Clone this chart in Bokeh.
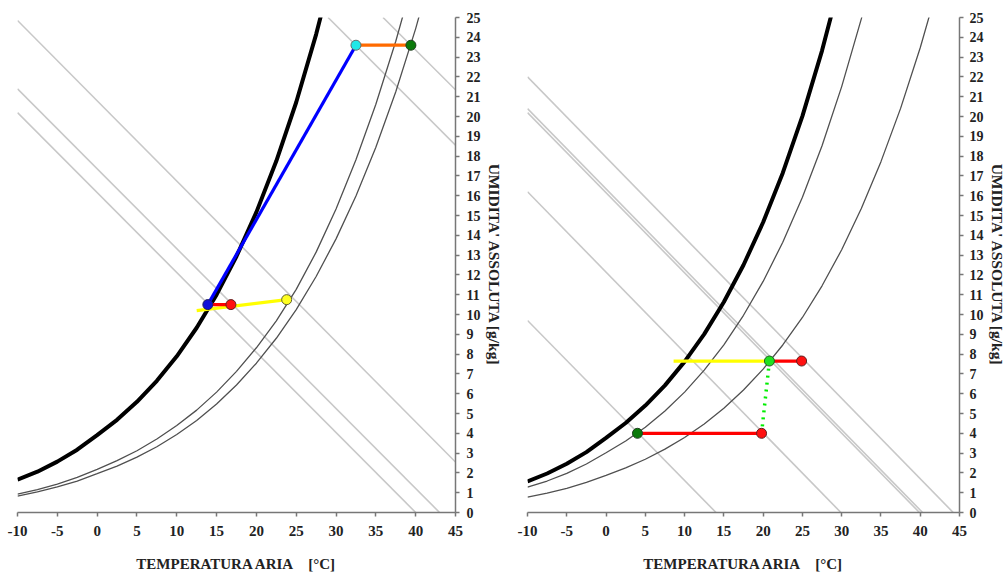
from bokeh.plotting import figure
from bokeh.layouts import row
from bokeh.models import Range1d, FixedTicker
from bokeh.embed import file_html
from bokeh.resources import INLINE

# ---------------- data ----------------
temps = [-10, -7.5, -5, -2.5, 0, 2.5, 5, 7.5, 10, 12.5, 15, 17.5, 20, 22.5,
         25, 27.5, 30, 32.5, 35, 37.5, 40, 42.5]

# saturation curves (thick black), g/kg
left_sat = [1.66, 2.06, 2.57, 3.17, 3.91, 4.68, 5.59, 6.65, 7.89, 9.33, 11.00,
            12.94, 15.17, 17.75, 20.72, 24.15, 28.07]
right_sat = [1.57, 1.97, 2.46, 3.05, 3.77, 4.52, 5.40, 6.42, 7.62, 9.01, 10.63,
             12.50, 14.66, 17.15, 20.02, 23.33, 27.12]
# left chart thin curves
left_curve_a = [0.93, 1.16, 1.43, 1.77, 2.18, 2.62, 3.12, 3.71, 4.39, 5.17, 6.08,
                7.13, 8.32, 9.68, 11.27, 13.15, 15.33, 17.82, 20.62, 23.80, 27.39]
left_curve_b = [0.83, 1.04, 1.29, 1.59, 1.96, 2.34, 2.80, 3.32, 3.94, 4.65, 5.48,
                6.44, 7.54, 8.80, 10.25, 11.92, 13.82, 15.98, 18.45, 21.25, 24.44, 28.06]
# right chart thin curves
right_curve_a = [1.28, 1.59, 1.98, 2.45, 3.02, 3.61, 4.31, 5.13, 6.08, 7.19, 8.47,
                 9.96, 11.67, 13.65, 15.92, 18.52, 21.51, 24.93, 28.84]
right_curve_b = [0.78, 0.98, 1.22, 1.52, 1.87, 2.25, 2.69, 3.20, 3.79, 4.47, 5.27,
                 6.19, 7.24, 8.46, 9.85, 11.45, 13.27, 15.35, 17.72, 20.41, 23.47, 26.93]

# gray diagonal lines: start temp, start humidity, end temp, end humidity
left_diag_x0 = [-10, -10, -10, 29.0, 35.9]
left_diag_y0 = [24.85, 21.4, 20.2, 25.0, 25.0]
left_diag_x1 = [45, 43.0, 40.0, 45, 45]
left_diag_y1 = [2.55, 0.0, 0.0, 18.55, 21.35]

right_diag_x0 = [-10, -10, -10, -10, -10]
right_diag_y0 = [9.7, 16.2, 20.2, 20.4, 22.0]
right_diag_x1 = [14.0, 29.9, 39.9, 40.3, 44.2]
right_diag_y1 = [0, 0, 0, 0, 0]

# process points, left chart
left_pt_names = ["blue", "red", "yellow", "cyan", "green"]
left_pt_t = [13.9, 16.8, 23.8, 32.5, 39.4]
left_pt_x = [10.5, 10.5, 10.75, 23.6, 23.6]
left_yellow_start = (12.5, 10.2)

# process points, right chart
right_pt_names = ["green_top", "red_top", "green_bottom", "red_bottom"]
right_pt_t = [20.8, 24.9, 4.0, 19.8]
right_pt_x = [7.65, 7.65, 4.0, 4.0]
right_yellow_start = (8.6, 7.65)

x_ticks = [-10, -5, 0, 5, 10, 15, 20, 25, 30, 35, 40, 45]
y_ticks = list(range(0, 26))

FONT = "Liberation Serif"
GRAY_LINE = "#c8c8c8"
THIN = "#505050"


def make_fig(width, b_left, b_right, lab_standoff, ax_lab_standoff):
    p = figure(width=width, height=574, x_range=Range1d(-10, 45), y_range=Range1d(0, 25),
               y_axis_location="right", output_backend="svg", toolbar_location=None,
               min_border_left=b_left, min_border_right=b_right,
               min_border_top=17, min_border_bottom=61)
    p.grid.visible = False
    p.outline_line_color = None
    p.background_fill_color = "white"
    p.border_fill_color = "white"
    p.xaxis.ticker = FixedTicker(ticks=x_ticks)
    p.yaxis.ticker = FixedTicker(ticks=y_ticks)
    p.xaxis.major_label_overrides = {-10: "-10", -5: "-5"}
    p.axis.major_tick_out = 4
    p.axis.major_tick_in = 0
    p.axis.minor_tick_out = 0
    p.axis.minor_tick_in = 0
    p.axis.axis_line_color = "#777777"
    p.axis.axis_line_width = 1.5
    p.axis.major_tick_line_color = "#777777"
    p.axis.major_tick_line_width = 1.5
    p.axis.major_label_text_font = FONT
    p.axis.major_label_text_font_style = "bold"
    p.axis.major_label_text_color = "#222222"
    p.xaxis.major_label_text_font_size = "15px"
    p.yaxis.major_label_text_font_size = "14px"
    p.xaxis.major_label_standoff = 9
    p.yaxis.major_label_standoff = lab_standoff
    p.axis.axis_label_text_font = FONT
    p.axis.axis_label_text_font_style = "bold"
    p.axis.axis_label_text_color = "#222222"
    p.xaxis.axis_label_text_font_size = "15px"
    p.yaxis.axis_label_text_font_size = "15.5px"
    p.xaxis.axis_label = "TEMPERATURA ARIA\u00a0\u00a0\u00a0\u00a0[°C]"
    p.yaxis.axis_label = "UMIDITA' ASSOLUTA [g/kg]"
    p.xaxis.axis_label_standoff = 17
    p.yaxis.axis_label_standoff = ax_lab_standoff
    return p


# ---------------- left chart ----------------
p1 = make_fig(510, 17, 55, 7, 2)
p1.segment(left_diag_x0, left_diag_y0, left_diag_x1, left_diag_y1,
           line_color=GRAY_LINE, line_width=1.6)
p1.line(temps[:len(left_curve_a)], left_curve_a, line_color=THIN, line_width=1.3)
p1.line(temps[:len(left_curve_b)], left_curve_b, line_color=THIN, line_width=1.3)
p1.line(temps[:len(left_sat)], left_sat, line_color="black", line_width=4)

# blue: blue -> cyan
p1.line([left_pt_t[0], left_pt_t[3]], [left_pt_x[0], left_pt_x[3]],
        line_color="#0000ff", line_width=3.2)
# yellow
p1.line([left_yellow_start[0], left_pt_t[2]], [left_yellow_start[1], left_pt_x[2]],
        line_color="#ffff00", line_width=3.2)
# red
p1.line([left_pt_t[0], left_pt_t[1]], [left_pt_x[0], left_pt_x[1]],
        line_color="#ff0000", line_width=3.2)
# orange
p1.line([left_pt_t[3], left_pt_t[4]], [left_pt_x[3], left_pt_x[4]],
        line_color="#ff6a00", line_width=3.2)

left_fill = ["#1010d8", "#ff1010", "#ffff20", "#20e8e8", "#0a7a0a"]
left_edge = ["#202060", "#602020", "#606030", "#607070", "#204020"]
p1.scatter(left_pt_t, left_pt_x, size=10, fill_color=left_fill, line_color=left_edge,
           line_width=1)

# ---------------- right chart ----------------
p2 = make_fig(498, 17, 46, 6, 2)
p2.segment(right_diag_x0, right_diag_y0, right_diag_x1, right_diag_y1,
           line_color=GRAY_LINE, line_width=1.6)
p2.line(temps[:len(right_curve_a)], right_curve_a, line_color=THIN, line_width=1.3)
p2.line(temps[:len(right_curve_b)], right_curve_b, line_color=THIN, line_width=1.3)
p2.line(temps[:len(right_sat)], right_sat, line_color="black", line_width=4)

# yellow to top green
p2.line([right_yellow_start[0], right_pt_t[0]], [right_yellow_start[1], right_pt_x[0]],
        line_color="#ffff00", line_width=3.2)
# red top
p2.line([right_pt_t[0], right_pt_t[1]], [right_pt_x[0], right_pt_x[1]],
        line_color="#ff0000", line_width=3.2)
# red bottom
p2.line([right_pt_t[2], right_pt_t[3]], [right_pt_x[2], right_pt_x[3]],
        line_color="#ff0000", line_width=3.2)
# green dotted
p2.line([right_pt_t[3], right_pt_t[0]], [right_pt_x[3], right_pt_x[0]],
        line_color="#00ee00", line_width=3.5, line_dash="2 5")

right_fill = ["#20e020", "#ff1010", "#0a7a0a", "#ff1010"]
right_edge = ["#206020", "#602020", "#204020", "#602020"]
p2.scatter(right_pt_t, right_pt_x, size=10, fill_color=right_fill, line_color=right_edge,
           line_width=1)

layout = row(p1, p2)
open("out.html", "w").write(file_html(layout, INLINE))
